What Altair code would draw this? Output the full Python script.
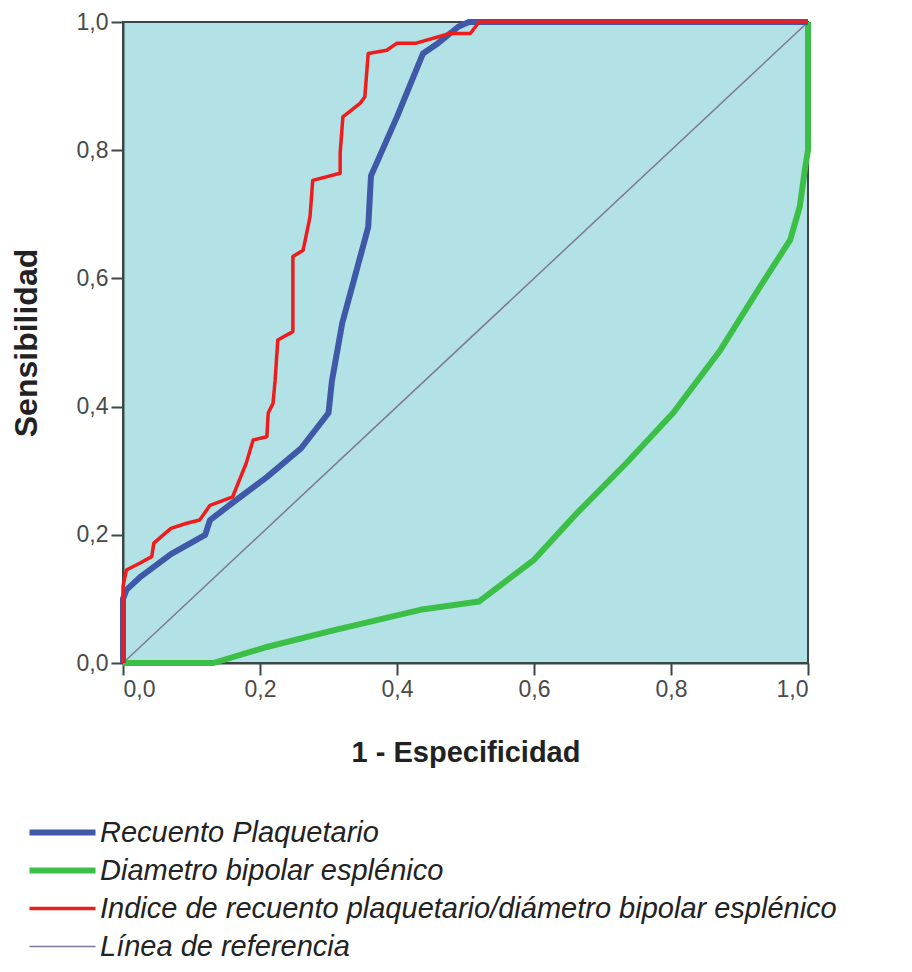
import altair as alt
import pandas as pd

series_names = [
    "Recuento Plaquetario",
    "Diametro bipolar esplénico",
    "Indice de recuento plaquetario/diámetro bipolar esplénico",
    "Línea de referencia",
]
series_colors = ["#3f58a8", "#3cbf46", "#ee1c1c", "#7f7795"]
series_widths = [6, 6, 3.5, 1.5]

blue_x = [0, 0, 0.005, 0.025, 0.07, 0.12, 0.127, 0.16, 0.21, 0.26, 0.30, 0.305,
          0.32, 0.336, 0.358, 0.362, 0.40, 0.438, 0.46, 0.49, 0.505, 1.0]
blue_y = [0, 0.10, 0.114, 0.134, 0.17, 0.20, 0.223, 0.25, 0.29, 0.335, 0.39, 0.44,
          0.53, 0.593, 0.68, 0.76, 0.852, 0.951, 0.967, 0.993, 1.0, 1.0]

green_x = [0, 0.132, 0.21, 0.307, 0.434, 0.52, 0.60, 0.662, 0.735, 0.803, 0.872,
           0.93, 0.974, 0.988, 0.996, 1.0, 1.0]
green_y = [0, 0, 0.025, 0.051, 0.083, 0.096, 0.161, 0.233, 0.312, 0.39, 0.488,
           0.587, 0.66, 0.712, 0.774, 0.80, 1.0]

red_x = [0, 0, 0.005, 0.025, 0.042, 0.045, 0.07, 0.093, 0.112, 0.127, 0.16, 0.166,
         0.18, 0.19, 0.21, 0.212, 0.219, 0.222, 0.226, 0.248, 0.248, 0.263, 0.273,
         0.277, 0.317, 0.317, 0.321, 0.346, 0.353, 0.358, 0.385, 0.40, 0.428, 0.477,
         0.507, 0.52, 1.0]
red_y = [0, 0.12, 0.145, 0.156, 0.166, 0.187, 0.21, 0.218, 0.223, 0.246, 0.259, 0.275,
         0.312, 0.348, 0.353, 0.39, 0.405, 0.44, 0.504, 0.517, 0.634, 0.644, 0.696,
         0.753, 0.764, 0.795, 0.852, 0.873, 0.883, 0.951, 0.956, 0.967, 0.967, 0.982,
         0.982, 1.0, 1.0]

ref_x = [0, 1]
ref_y = [0, 1]

tick_values = [0, 0.2, 0.4, 0.6, 0.8, 1.0]

rows = []
for name, xs, ys in [
    (series_names[3], ref_x, ref_y),
    (series_names[1], green_x, green_y),
    (series_names[0], blue_x, blue_y),
    (series_names[2], red_x, red_y),
]:
    for i, (xv, yv) in enumerate(zip(xs, ys)):
        rows.append({"x": xv, "y": yv, "serie": name, "i": i})
df = pd.DataFrame(rows)

label_expr = "replace(format(datum.value, '.1f'), '.', ',')"
FONT = "Liberation Sans"

chart = (
    alt.Chart(df)
    .mark_line(strokeJoin="round")
    .encode(
        x=alt.X(
            "x:Q",
            scale=alt.Scale(domain=[0, 1], nice=False),
            axis=alt.Axis(
                values=tick_values,
                labelExpr=label_expr,
                title="1 - Especificidad",
                titleX=342.5,
                titleY=89,
                titleBaseline="middle",
                grid=False,
            ),
        ),
        y=alt.Y(
            "y:Q",
            scale=alt.Scale(domain=[0, 1], nice=False),
            axis=alt.Axis(
                values=tick_values,
                labelExpr=label_expr,
                title="Sensibilidad",
                titleX=-97,
                titleY=320.5,
                titleAngle=-90,
                titleBaseline="middle",
                titleAlign="center",
                grid=False,
                titleFontSize=32,
            ),
        ),
        color=alt.Color(
            "serie:N",
            scale=alt.Scale(domain=series_names, range=series_colors),
            legend=alt.Legend(
                orient="none",
                legendX=-75,
                legendY=796,
                title=None,
                symbolType="M -3 0 L 3 0",
                symbolSize=484,
                labelFont=FONT,
                labelFontStyle="italic",
                labelFontSize=29,
                labelColor="#222222",
                labelLimit=1000,
                labelOffset=23,
                rowPadding=8,
                padding=0,
            ),
        ),
        strokeWidth=alt.StrokeWidth(
            "serie:N",
            scale=alt.Scale(type="ordinal", domain=series_names, range=series_widths),
            legend=None,
        ),
        order=alt.Order("i:Q"),
    )
    .properties(
        width=685,
        height=641,
        autosize=alt.AutoSizeParams(type="none"),
        padding={"left": 115, "top": 14, "right": 80, "bottom": 300},
        background="white",
    )
    .configure_view(fill="#b2e2e5", stroke="#3d4646", strokeWidth=2)
    .configure_axis(
        domainColor="#3d4646",
        domainWidth=2,
        tickColor="#3d4646",
        tickWidth=2,
        tickSize=12,
        labelPadding=3,
        labelFont=FONT,
        labelFontSize=23,
        labelColor="#4a4a4a",
        titleFont=FONT,
        titleFontWeight="bold",
        titleFontSize=29,
        titleColor="#222222",
    )
    .configure_legend(symbolStrokeWidth=5)
)

chart.save("out.html", embed_options={"renderer": "svg", "actions": False})
